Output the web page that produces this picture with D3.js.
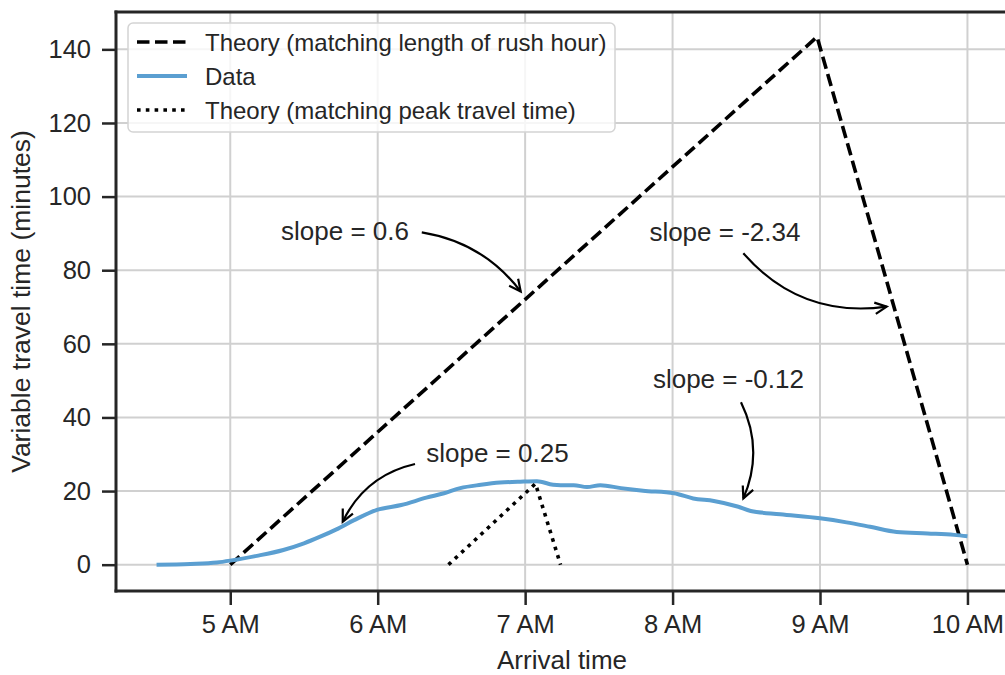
<!DOCTYPE html>
<html>
<head>
<meta charset="utf-8">
<script src="https://cdn.jsdelivr.net/npm/d3@7"></script>
<style>
  html, body { margin: 0; padding: 0; background: #ffffff; }
  svg { display: block; font-family: "Liberation Sans", Arial, sans-serif; }
</style>
</head>
<body>
<svg id="chart" width="1005" height="675"></svg>
<script>
// ---- data ----
const dataTime = [4.50, 4.73, 4.91, 5.00, 5.18, 5.36, 5.50, 5.61, 5.72, 5.84, 5.995, 6.16, 6.33, 6.45, 6.56, 6.70, 6.83, 6.95, 7.08, 7.19, 7.24, 7.33, 7.42, 7.51, 7.65, 7.80, 8.01, 8.14, 8.28, 8.44, 8.53, 8.73, 9.00, 9.18, 9.34, 9.52, 9.73, 9.91, 10.00];
const dataValue = [0.0, 0.2, 0.6, 1.1, 2.4, 4.0, 5.8, 7.6, 9.6, 12.1, 14.9, 16.2, 18.2, 19.4, 20.8, 21.7, 22.3, 22.5, 22.7, 21.7, 21.6, 21.6, 21.1, 21.6, 20.8, 20.1, 19.4, 18.0, 17.3, 15.8, 14.6, 13.7, 12.6, 11.5, 10.3, 8.9, 8.5, 8.1, 7.7];

const theoryLengthTime = [5.0, 8.98, 10.0];
const theoryLengthValue = [0, 143.4, 0];

const theoryPeakTime = [6.48, 7.07, 7.24];
const theoryPeakValue = [0, 22.0, 0];

const xTickValues = [5, 6, 7, 8, 9, 10];
const xTickLabels = ["5 AM", "6 AM", "7 AM", "8 AM", "9 AM", "10 AM"];
const yTickValues = [0, 20, 40, 60, 80, 100, 120, 140];

const legendLabels = ["Theory (matching length of rush hour)", "Data", "Theory (matching peak travel time)"];

// annotations: text, text position, arrow start, arrow end (data coords), bend
const annoText = ["slope = 0.6", "slope = -2.34", "slope = -0.12", "slope = 0.25"];
const annoTextPos = [[5.778, 90.6], [8.355, 90.5], [8.379, 50.4], [6.812, 30.3]];
const annoStart = [[6.299, 90.3], [8.480, 84.6], [8.464, 44.1], [6.253, 27.35]];
const annoEnd = [[6.970, 74.2], [9.452, 70.1], [8.480, 18.0], [5.763, 11.7]];
const annoRad = [0.2, -0.27, 0.23, -0.24];

// ---- layout ----
const svg = d3.select("#chart");
const pL = 116, pR = 1008, pT = 12, pB = 591;
const ink = "#262626";

const x = d3.scaleLinear().domain([4.225, 10.275]).range([pL, pR]);
const y = d3.scaleLinear().domain([-7.15, 150.15]).range([pB, pT]);

const defs = svg.append("defs");
defs.append("clipPath").attr("id", "plotclip")
  .append("rect").attr("x", pL).attr("y", pT).attr("width", pR - pL).attr("height", pB - pT);

// grid
const grid = svg.append("g");
grid.selectAll("line.gx").data(xTickValues).enter().append("line")
  .attr("x1", d => x(d)).attr("x2", d => x(d)).attr("y1", pT).attr("y2", pB)
  .attr("stroke", "#d0d0d0").attr("stroke-width", 2);
grid.selectAll("line.gy").data(yTickValues).enter().append("line")
  .attr("y1", d => y(d)).attr("y2", d => y(d)).attr("x1", pL).attr("x2", pR)
  .attr("stroke", "#d0d0d0").attr("stroke-width", 2);

// axes
const xAxis = d3.axisBottom(x).tickValues(xTickValues).tickFormat((d, i) => xTickLabels[i]).tickSize(14).tickPadding(10);
const yAxis = d3.axisLeft(y).tickValues(yTickValues).tickFormat(d3.format("d")).tickSize(14).tickPadding(11);

const gx = svg.append("g").attr("transform", `translate(0,${pB})`).call(xAxis);
const gy = svg.append("g").attr("transform", `translate(${pL},0)`).call(yAxis);
[gx, gy].forEach(g => {
  g.select(".domain").remove();
  g.selectAll(".tick line").attr("stroke", ink).attr("stroke-width", 2.5);
  g.selectAll(".tick text").attr("fill", ink).style("font-size", "25.5px")
    .style("font-family", '"Liberation Sans", Arial, sans-serif');
});

// spines
svg.append("line").attr("x1", pL).attr("x2", pL).attr("y1", pT - 1.5).attr("y2", pB + 1.5)
  .attr("stroke", ink).attr("stroke-width", 3);
svg.append("line").attr("x1", pL - 1.5).attr("x2", pR).attr("y1", pB).attr("y2", pB)
  .attr("stroke", ink).attr("stroke-width", 3);
svg.append("line").attr("x1", pL - 1.5).attr("x2", pR).attr("y1", pT).attr("y2", pT)
  .attr("stroke", ink).attr("stroke-width", 3);

// lines
const plot = svg.append("g").attr("clip-path", "url(#plotclip)");
const lineGen = d3.line().x(d => x(d[0])).y(d => y(d[1]));

plot.append("path")
  .datum(theoryLengthTime.map((t, i) => [t, theoryLengthValue[i]]))
  .attr("d", lineGen).attr("fill", "none").attr("stroke", "#000").attr("stroke-width", 3.6)
  .attr("stroke-dasharray", "12.5,5.5");

plot.append("path")
  .datum(dataTime.map((t, i) => [t, dataValue[i]]))
  .attr("d", lineGen.curve(d3.curveMonotoneX)).attr("fill", "none").attr("stroke", "#5b9fd1")
  .attr("stroke-width", 4).attr("stroke-linejoin", "round");

lineGen.curve(d3.curveLinear);
plot.append("path")
  .datum(theoryPeakTime.map((t, i) => [t, theoryPeakValue[i]]))
  .attr("d", lineGen).attr("fill", "none").attr("stroke", "#000").attr("stroke-width", 3.6)
  .attr("stroke-dasharray", "3.6,5.2");

// annotations
const ann = svg.append("g");
annoText.forEach((txt, i) => {
  const sx = x(annoStart[i][0]), sy = y(annoStart[i][1]);
  const ex = x(annoEnd[i][0]), ey = y(annoEnd[i][1]);
  const dx = ex - sx, dy = ey - sy;
  const cx = (sx + ex) / 2 + annoRad[i] * dy;
  const cy = (sy + ey) / 2 - annoRad[i] * dx;
  const p = d3.path();
  p.moveTo(sx, sy);
  p.quadraticCurveTo(cx, cy, ex, ey);
  ann.append("path").attr("d", p.toString()).attr("fill", "none").attr("stroke", "#000").attr("stroke-width", 2.2);
  const ang = Math.atan2(ey - cy, ex - cx);
  const hl = 13, ha = 0.45;
  const h = d3.path();
  h.moveTo(ex - hl * Math.cos(ang - ha), ey - hl * Math.sin(ang - ha));
  h.lineTo(ex, ey);
  h.lineTo(ex - hl * Math.cos(ang + ha), ey - hl * Math.sin(ang + ha));
  ann.append("path").attr("d", h.toString()).attr("fill", "none").attr("stroke", "#000")
    .attr("stroke-width", 2.2).attr("stroke-linejoin", "miter");
  ann.append("text").attr("x", x(annoTextPos[i][0])).attr("y", y(annoTextPos[i][1]))
    .attr("text-anchor", "middle").attr("dominant-baseline", "central")
    .attr("fill", ink).style("font-size", "26px").text(txt);
});

// axis labels
svg.append("text").attr("x", (pL + pR) / 2).attr("y", 669).attr("text-anchor", "middle")
  .attr("fill", ink).style("font-size", "26px").text("Arrival time");
svg.append("text").attr("transform", `translate(30,${(pT + pB) / 2}) rotate(-90)`)
  .attr("text-anchor", "middle").attr("fill", ink).style("font-size", "26.5px")
  .text("Variable travel time (minutes)");

// legend
const lg = svg.append("g");
lg.append("rect").attr("x", 128).attr("y", 23).attr("width", 487).attr("height", 109).attr("rx", 5)
  .attr("fill", "#ffffff").attr("fill-opacity", 0.8).attr("stroke", "#d4d4d4").attr("stroke-width", 1.5);
const legStyles = [
  { color: "#000", dash: "12.5,5.5", w: 3.6 },
  { color: "#5b9fd1", dash: null, w: 4 },
  { color: "#000", dash: "3.6,5.2", w: 3.6 }
];
const rowY = [42, 76, 110];
legendLabels.forEach((lab, i) => {
  const l = lg.append("line").attr("x1", 137).attr("x2", 187).attr("y1", rowY[i]).attr("y2", rowY[i])
    .attr("stroke", legStyles[i].color).attr("stroke-width", legStyles[i].w);
  if (legStyles[i].dash) l.attr("stroke-dasharray", legStyles[i].dash);
  lg.append("text").attr("x", 205).attr("y", rowY[i]).attr("dominant-baseline", "central")
    .attr("fill", ink).style("font-size", "24px").text(lab);
});
</script>
</body>
</html>
